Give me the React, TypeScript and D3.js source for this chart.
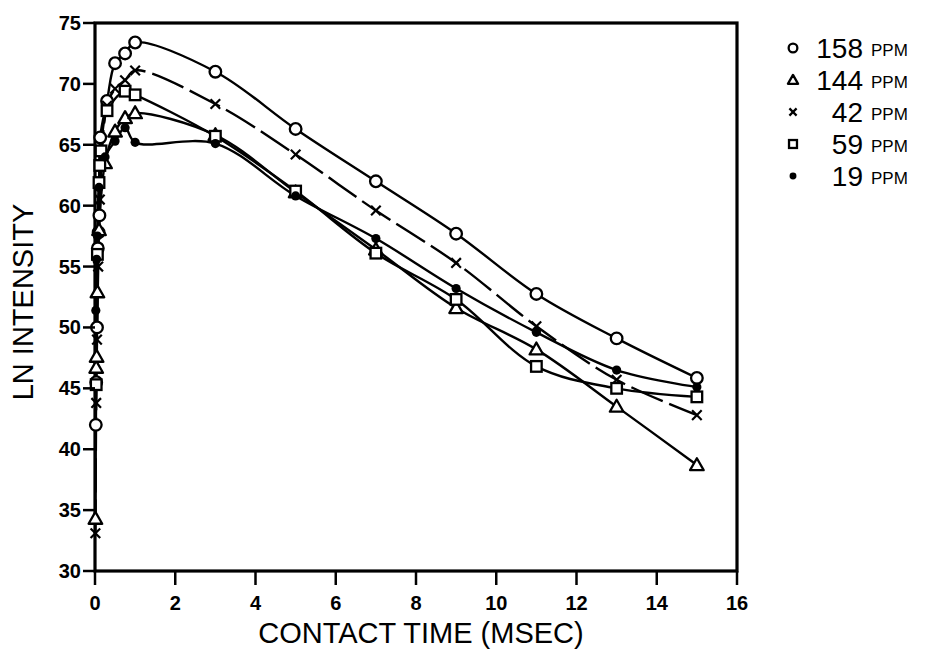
import React from "react";
import * as d3 from "d3";

const xTicks = [0, 2, 4, 6, 8, 10, 12, 14, 16];
const yTicks = [30, 35, 40, 45, 50, 55, 60, 65, 70, 75];

const t158 = [0.02, 0.03, 0.05, 0.07, 0.09, 0.11, 0.13, 0.3, 0.5, 0.75, 1, 3, 5, 7, 9, 11, 13, 15];
const v158 = [42, 45.5, 50, 56.5, 57.8, 59.2, 65.6, 68.6, 71.7, 72.5, 73.4, 71, 66.3, 62, 57.7, 52.75, 49.1, 45.85];

const t144 = [0.01, 0.03, 0.04, 0.06, 0.1, 0.25, 0.5, 0.75, 1, 3, 5, 7, 9, 11, 13, 15];
const v144 = [34.3, 46.7, 47.6, 52.9, 58, 63.5, 66.1, 67.2, 67.6, 65.8, 61.1, 56.4, 51.6, 48.2, 43.5, 38.7];

const t42 = [0.01, 0.03, 0.05, 0.08, 0.12, 0.3, 0.5, 0.75, 1, 3, 5, 7, 9, 11, 13, 15];
const v42 = [33.1, 43.8, 49.0, 55.0, 60.5, 68.2, 69.6, 70.3, 71.1, 68.35, 64.2, 59.6, 55.3, 50.1, 45.7, 42.8];

const t59 = [0.03, 0.06, 0.1, 0.12, 0.15, 0.3, 0.75, 1, 3, 5, 7, 9, 11, 13, 15];
const v59 = [45.3, 56, 61.9, 63.3, 64.5, 67.8, 69.4, 69.1, 65.7, 61.2, 56.1, 52.3, 46.8, 45.0, 44.3];

const t19 = [0.02, 0.04, 0.06, 0.1, 0.25, 0.5, 0.75, 1, 3, 5, 7, 9, 11, 13, 15];
const v19 = [51.4, 55.6, 57.5, 61.5, 64.0, 65.3, 66.4, 65.2, 65.1, 60.8, 57.3, 53.2, 49.6, 46.5, 45.1];

const legendNums = ["158", "144", "42", "59", "19"];
const legendUnit = "PPM";
const markers = ["circle", "triangle", "cross", "square", "dot"];

const seriesList = [
  { t: t158, v: v158, m: "circle", dash: "" },
  { t: t144, v: v144, m: "triangle", dash: "" },
  { t: t42, v: v42, m: "cross", dash: "34,7" },
  { t: t59, v: v59, m: "square", dash: "" },
  { t: t19, v: v19, m: "dot", dash: "" },
];

const FONT = "'Liberation Sans', Arial, sans-serif";

function Marker({ kind, x, y, s = 1 }: { kind: string; x: number; y: number; s?: number }) {
  const sw = 2.3;
  if (kind === "circle")
    return <circle cx={x} cy={y} r={5.8 * s} fill="#fff" stroke="#000" strokeWidth={sw} />;
  if (kind === "triangle") {
    const h = 6.8 * s;
    return (
      <path
        d={`M${x},${y - h} L${x + h},${y + h * 0.75} L${x - h},${y + h * 0.75} Z`}
        fill="#fff"
        stroke="#000"
        strokeWidth={sw}
        strokeLinejoin="round"
      />
    );
  }
  if (kind === "square") {
    const h = 5.3 * s;
    return <rect x={x - h} y={y - h} width={2 * h} height={2 * h} fill="#fff" stroke="#000" strokeWidth={sw} />;
  }
  if (kind === "cross") {
    const h = 4.8 * s;
    return (
      <g stroke="#000" strokeWidth={2.2}>
        <line x1={x - h} y1={y - h} x2={x + h} y2={y + h} />
        <line x1={x - h} y1={y + h} x2={x + h} y2={y - h} />
      </g>
    );
  }
  return <circle cx={x} cy={y} r={4.6 * s} fill="#000" />;
}

export default function App() {
  const W = 940;
  const H = 651;
  const x = d3.scaleLinear().domain([0, 16]).range([95, 737]);
  const y = d3.scaleLinear().domain([30, 75]).range([571, 23]);
  const line = d3
    .line<[number, number]>()
    .x((d) => x(d[0]))
    .y((d) => y(d[1]))
    .curve(d3.curveCatmullRom.alpha(0.5));

  const legendY = d3.scalePoint<string>().domain(legendNums).range([48, 176]);

  return (
    <svg width={W} height={H} style={{ position: "absolute", left: 0, top: 0, background: "#fff" }}>
      <rect x={0} y={0} width={W} height={H} fill="#fff" />
      {seriesList.map((s, i) => {
        const pts: [number, number][] = s.t.map((tt, j) => [tt, s.v[j]]);
        return (
          <path
            key={"l" + i}
            d={line(pts) || ""}
            fill="none"
            stroke="#000"
            strokeWidth={2.4}
            strokeDasharray={s.dash || undefined}
          />
        );
      })}
      <rect x={x(0)} y={y(75)} width={x(16) - x(0)} height={y(30) - y(75)} fill="none" stroke="#000" strokeWidth={3.2} />
      {seriesList.map((s, i) =>
        s.t.map((tt, j) => <Marker key={`m${i}-${j}`} kind={s.m} x={x(tt)} y={y(s.v[j])} />)
      )}
      {yTicks.map((v) => (
        <g key={"yt" + v}>
          <line x1={x(0) - 12} x2={x(0)} y1={y(v)} y2={y(v)} stroke="#000" strokeWidth={2.5} />
          <text
            x={x(0) - 14}
            y={y(v)}
            textAnchor="end"
            dominantBaseline="central"
            fontFamily={FONT}
            fontWeight="bold"
            fontSize={20}
          >
            {v}
          </text>
        </g>
      ))}
      {xTicks.map((v) => (
        <g key={"xt" + v}>
          <line x1={x(v)} x2={x(v)} y1={y(30)} y2={y(30) + 14} stroke="#000" strokeWidth={2.5} />
          <text
            x={x(v)}
            y={y(30) + 32}
            textAnchor="middle"
            dominantBaseline="central"
            fontFamily={FONT}
            fontWeight="bold"
            fontSize={20}
          >
            {v}
          </text>
        </g>
      ))}
      <text
        x={(x(0) + x(16)) / 2 + 5}
        y={633}
        textAnchor="middle"
        dominantBaseline="central"
        fontFamily={FONT}
        fontSize={29}
      >
        CONTACT TIME (MSEC)
      </text>
      <text
        transform={`translate(23,${(y(30) + y(75)) / 2 + 5}) rotate(-90)`}
        textAnchor="middle"
        dominantBaseline="central"
        fontFamily={FONT}
        fontSize={29}
      >
        LN INTENSITY
      </text>
      {legendNums.map((n, i) => {
        const ly = legendY(n) || 0;
        return (
          <g key={"lg" + n}>
            <Marker kind={markers[i]} x={793} y={ly} s={0.75} />
            <text x={863} y={ly} textAnchor="end" dominantBaseline="central" fontFamily={FONT} fontSize={28}>
              {n}
            </text>
            <text x={871} y={ly + 2} dominantBaseline="central" fontFamily={FONT} fontSize={17}>
              {legendUnit}
            </text>
          </g>
        );
      })}
    </svg>
  );
}
